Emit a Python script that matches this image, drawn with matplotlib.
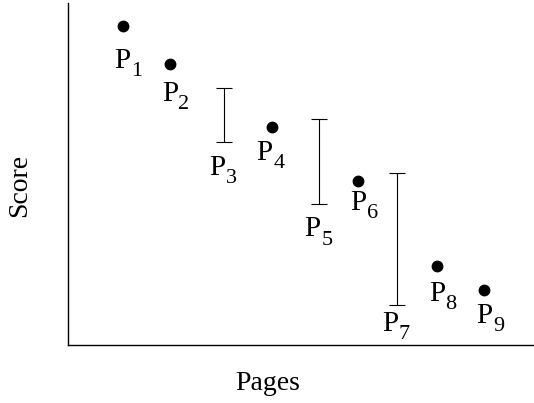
import matplotlib
matplotlib.use("Agg")
import matplotlib.pyplot as plt

plt.rcParams["font.family"] = ["Liberation Serif", "DejaVu Serif"]

# single-score pages (dots)
dot_names = ["1", "2", "4", "6", "8", "9"]
dot_x = [1.19, 2.19, 4.37, 6.23, 7.91, 8.93]
dot_y = [9.33, 8.21, 6.38, 4.80, 2.32, 1.61]

# pages with a score range (interval bars)
bar_names = ["3", "5", "7"]
bar_x = [3.35, 5.39, 7.05]
bar_lo = [5.93, 4.11, 1.17]
bar_hi = [7.51, 6.60, 5.02]

# label offsets (points) from the mark to the baseline-left of the "P"
dot_offsets = [(-6.5, -30), (-6.0, -26.3), (-10.8, -23.8), (-5.5, -20.7), (-5.7, -25.5), (-5.5, -23.6)]
bar_offsets = [(-10.5, -23.4), (-10.5, -22.9), (-10.3, -18.8)]


def page_label(ax, name, x, y, dx, dy):
    # "P" plus a large, dropped subscript
    ax.annotate("P", (x, y), textcoords="offset points", xytext=(dx, dy),
                ha="left", va="baseline", fontsize=21)
    ax.annotate(name, (x, y), textcoords="offset points", xytext=(dx + 12, dy - 6),
                ha="left", va="baseline", fontsize=16)


fig = plt.figure(figsize=(5.34, 4.03), dpi=100)
ax = fig.add_axes([68 / 534, 58 / 403, 466 / 534, 342 / 403])

ax.plot(dot_x, dot_y, "o", color="black", markersize=7.5, linestyle="none")
for name, x, y, (dx, dy) in zip(dot_names, dot_x, dot_y, dot_offsets):
    page_label(ax, name, x, y, dx, dy)

mid = [(lo + hi) / 2 for lo, hi in zip(bar_lo, bar_hi)]
err = [[m - lo for m, lo in zip(mid, bar_lo)], [hi - m for m, hi in zip(mid, bar_hi)]]
ax.errorbar(bar_x, mid, yerr=err, fmt="none", ecolor="black", elinewidth=0.8,
            capsize=5.5, capthick=0.8)
for name, x, y, (dx, dy) in zip(bar_names, bar_x, bar_lo, bar_offsets):
    page_label(ax, name, x, y, dx, dy)

ax.set_xlim(0, 10)
ax.set_ylim(0, 10)
ax.set_xticks([])
ax.set_yticks([])
ax.spines["top"].set_visible(False)
ax.spines["right"].set_visible(False)
for s in ("left", "bottom"):
    ax.spines[s].set_linewidth(1.0)

fig.text(268 / 534, 1 - 383 / 403, "Pages", ha="center", va="center", fontsize=20)
fig.text(20 / 534, 1 - 185 / 403, "Score", ha="center", va="center", rotation=90, fontsize=20)

fig.savefig("out.png", dpi=100)
